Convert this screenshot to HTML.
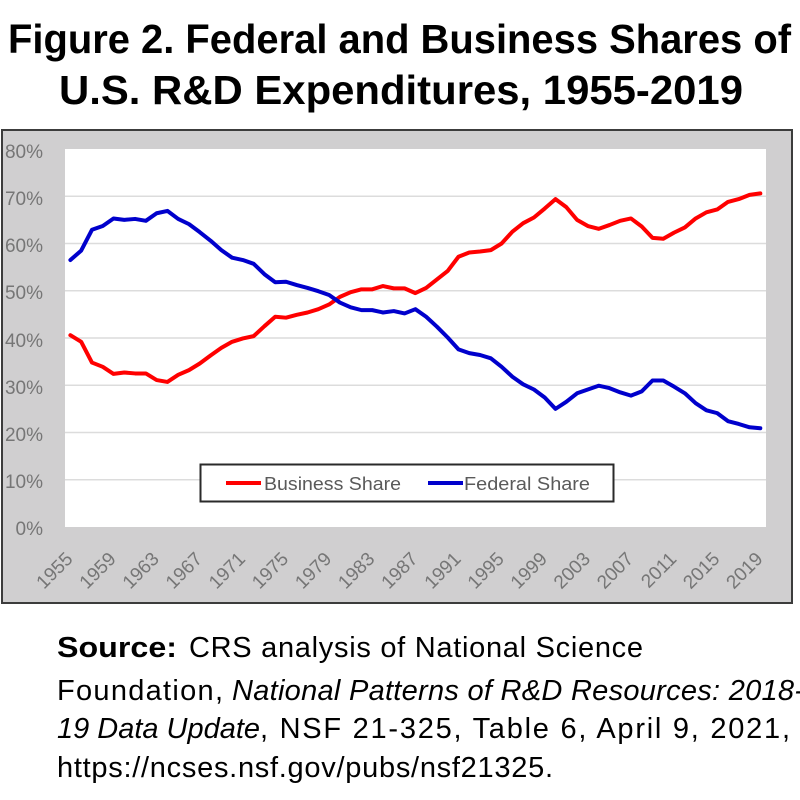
<!DOCTYPE html>
<html>
<head>
<meta charset="utf-8">
<style>
  html, body { margin:0; padding:0; background:#ffffff; }
  body { width:800px; height:800px; overflow:hidden; }
  svg { display:block; }
</style>
</head>
<body>
<svg width="800" height="800" viewBox="0 0 800 800" xmlns="http://www.w3.org/2000/svg">
  <rect x="0" y="0" width="800" height="800" fill="#ffffff"/>

  <!-- Title -->
  <text x="8" y="53" font-family="Liberation Sans, sans-serif" font-weight="bold" font-size="41" fill="#000" textLength="783" lengthAdjust="spacingAndGlyphs">Figure 2. Federal and Business Shares of</text>
  <text x="59" y="104" font-family="Liberation Sans, sans-serif" font-weight="bold" font-size="41" fill="#000" textLength="684" lengthAdjust="spacingAndGlyphs">U.S. R&amp;D Expenditures, 1955-2019</text>

  <!-- Chart outer box -->
  <rect x="2" y="130" width="790" height="473" fill="#d0cfd0" stroke="#3c3c3c" stroke-width="2"/>

  <!-- Plot area -->
  <rect x="65" y="149" width="701" height="378" fill="#ffffff"/>

  <!-- Gridlines -->
  <g stroke="#dcdcdc" stroke-width="1.5">
    <line x1="65" y1="196.3" x2="766" y2="196.3"/>
    <line x1="65" y1="243.5" x2="766" y2="243.5"/>
    <line x1="65" y1="290.8" x2="766" y2="290.8"/>
    <line x1="65" y1="338" x2="766" y2="338"/>
    <line x1="65" y1="385.3" x2="766" y2="385.3"/>
    <line x1="65" y1="432.5" x2="766" y2="432.5"/>
    <line x1="65" y1="479.8" x2="766" y2="479.8"/>
  </g>

  <!-- Y labels -->
  <g font-family="Liberation Sans, sans-serif" font-size="19" fill="#767676" text-anchor="end">
    <text x="43" y="158">80%</text>
    <text x="43" y="205">70%</text>
    <text x="43" y="252">60%</text>
    <text x="43" y="299">50%</text>
    <text x="43" y="347">40%</text>
    <text x="43" y="394">30%</text>
    <text x="43" y="441">20%</text>
    <text x="43" y="488">10%</text>
    <text x="43" y="535">0%</text>
  </g>

  <!-- X labels -->
  <g font-family="Liberation Sans, sans-serif" font-size="19" fill="#767676" text-anchor="end">
    <text x="73.9" y="560" transform="rotate(-45 73.9 560)">1955</text>
    <text x="117" y="560" transform="rotate(-45 117 560)">1959</text>
    <text x="160.1" y="560" transform="rotate(-45 160.1 560)">1963</text>
    <text x="203.3" y="560" transform="rotate(-45 203.3 560)">1967</text>
    <text x="246.4" y="560" transform="rotate(-45 246.4 560)">1971</text>
    <text x="289.5" y="560" transform="rotate(-45 289.5 560)">1975</text>
    <text x="332.6" y="560" transform="rotate(-45 332.6 560)">1979</text>
    <text x="375.7" y="560" transform="rotate(-45 375.7 560)">1983</text>
    <text x="418.9" y="560" transform="rotate(-45 418.9 560)">1987</text>
    <text x="462" y="560" transform="rotate(-45 462 560)">1991</text>
    <text x="505.1" y="560" transform="rotate(-45 505.1 560)">1995</text>
    <text x="548.2" y="560" transform="rotate(-45 548.2 560)">1999</text>
    <text x="591.3" y="560" transform="rotate(-45 591.3 560)">2003</text>
    <text x="634.5" y="560" transform="rotate(-45 634.5 560)">2007</text>
    <text x="677.6" y="560" transform="rotate(-45 677.6 560)">2011</text>
    <text x="720.7" y="560" transform="rotate(-45 720.7 560)">2015</text>
    <text x="763.8" y="560" transform="rotate(-45 763.8 560)">2019</text>
  </g>

  <!-- Series -->
  <g transform="translate(70.4,527) scale(10.78,-4.725)" fill="none" stroke-linejoin="round" stroke-linecap="round">
    <polyline vector-effect="non-scaling-stroke" stroke="#ff0000" stroke-width="4" points="
      0,40.6 1,39.2 2,34.8 3,33.9 4,32.4 5,32.7 6,32.5 7,32.5 8,31.1 9,30.7
      10,32.2 11,33.2 12,34.6 13,36.3 14,37.9 15,39.2 16,39.9 17,40.4 18,42.5 19,44.5
      20,44.3 21,44.9 22,45.4 23,46.1 24,47.1 25,48.7 26,49.7 27,50.3 28,50.3 29,51.0
      30,50.5 31,50.5 32,49.5 33,50.6 34,52.4 35,54.2 36,57.2 37,58.1 38,58.3 39,58.6
      40,60.0 41,62.5 42,64.3 43,65.5 44,67.4 45,69.4 46,67.7 47,65.0 48,63.7 49,63.1
      50,63.9 51,64.8 52,65.3 53,63.6 54,61.2 55,61.0 56,62.3 57,63.4 58,65.3 59,66.6
      60,67.2 61,68.8 62,69.4 63,70.3 64,70.6"/>
    <polyline vector-effect="non-scaling-stroke" stroke="#0000cc" stroke-width="4" points="
      0,56.5 1,58.5 2,62.9 3,63.7 4,65.3 5,65.0 6,65.2 7,64.8 8,66.4 9,66.9
      10,65.2 11,64.1 12,62.4 13,60.6 14,58.6 15,57.0 16,56.5 17,55.7 18,53.5 19,51.8
      20,51.9 21,51.2 22,50.6 23,49.9 24,49.1 25,47.5 26,46.5 27,45.9 28,45.9 29,45.4
      30,45.7 31,45.2 32,46.1 33,44.5 34,42.4 35,40.1 36,37.6 37,36.8 38,36.4 39,35.7
      40,33.9 41,31.8 42,30.2 43,29.1 44,27.4 45,25.0 46,26.5 47,28.3 48,29.1 49,29.9
      50,29.4 51,28.5 52,27.8 53,28.7 54,31.0 55,31.0 56,29.7 57,28.3 58,26.2 59,24.7
      60,24.1 61,22.4 62,21.8 63,21.1 64,20.9"/>
  </g>

  <!-- Legend -->
  <rect x="200.5" y="464.5" width="413" height="37" fill="#ffffff" stroke="#2a2a2a" stroke-width="2"/>
  <line x1="226" y1="483" x2="261" y2="483" stroke="#ff0000" stroke-width="4"/>
  <text x="264" y="490" font-family="Liberation Sans, sans-serif" font-size="18" fill="#5a5a5a" textLength="137" lengthAdjust="spacingAndGlyphs">Business Share</text>
  <line x1="428" y1="483" x2="463" y2="483" stroke="#0000cc" stroke-width="4"/>
  <text x="464" y="490" font-family="Liberation Sans, sans-serif" font-size="18" fill="#5a5a5a" textLength="126" lengthAdjust="spacingAndGlyphs">Federal Share</text>

  <!-- Source -->
  <g font-family="Liberation Sans, sans-serif" font-size="29" fill="#000">
    <text x="57" y="657" font-weight="bold" textLength="120" lengthAdjust="spacingAndGlyphs">Source:</text>
    <text x="189" y="657" textLength="454" lengthAdjust="spacing">CRS analysis of National Science</text>
    <text x="57" y="700" textLength="166" lengthAdjust="spacing">Foundation,</text>
    <text x="232" y="700" font-style="italic" textLength="572" lengthAdjust="spacing">National Patterns of R&amp;D Resources: 2018-</text>
    <text x="57" y="738" font-style="italic" textLength="203" lengthAdjust="spacingAndGlyphs">19 Data Update</text>
    <text x="260" y="738" textLength="530" lengthAdjust="spacing">, NSF 21-325, Table 6, April 9, 2021,</text>
    <text x="57" y="777" textLength="496" lengthAdjust="spacing">https://ncses.nsf.gov/pubs/nsf21325.</text>
  </g>
</svg>
</body>
</html>
